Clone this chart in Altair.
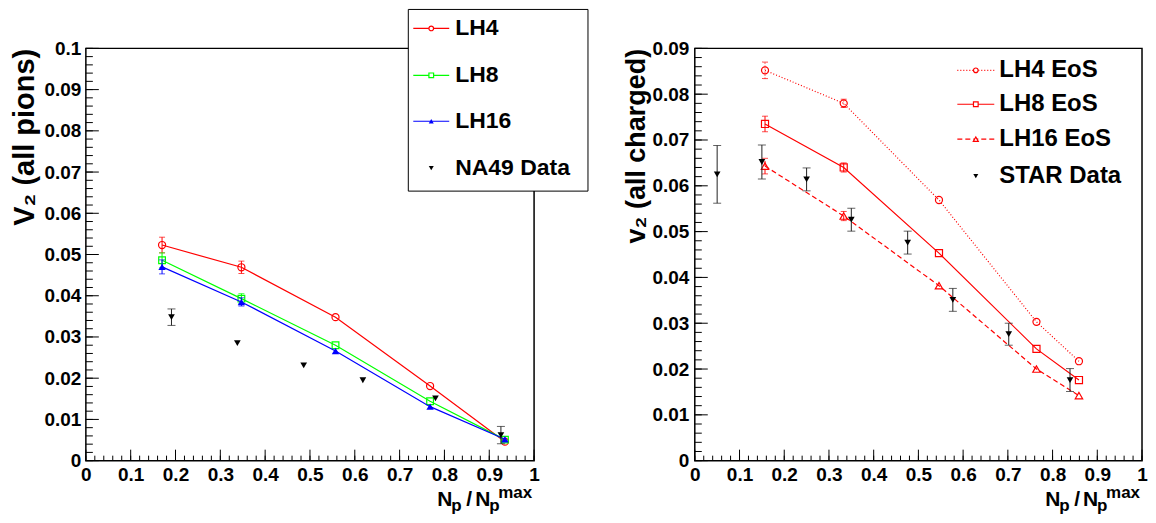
import altair as alt
import pandas as pd

FONT = "Liberation Sans"

# ---------------- Left panel: v2 of all pions ----------------
left_model_x = [0.170, 0.347, 0.557, 0.768, 0.935]
lh4_left = [0.0523, 0.0469, 0.0348, 0.0181, 0.0046]
lh4_left_err = [0.0019, 0.0015, 0.0, 0.0, 0.0]
lh8_left = [0.0486, 0.0393, 0.0280, 0.0144, 0.0051]
lh8_left_err = [0.0018, 0.0012, 0.0, 0.0, 0.0]
lh16_left = [0.0470, 0.0385, 0.0266, 0.0131, 0.0052]
lh16_left_err = [0.0017, 0.0010, 0.0, 0.0, 0.0]
na49_x = [0.191, 0.338, 0.486, 0.618, 0.780, 0.926]
na49_v2 = [0.0348, 0.0285, 0.0231, 0.0195, 0.0151, 0.0062]
na49_err = [0.0020, 0.0, 0.0, 0.0, 0.0, 0.0021]

# ---------------- Right panel: v2 of all charged ----------------
right_model_x = [0.157, 0.333, 0.546, 0.764, 0.859]
lh4_right = [0.0852, 0.0780, 0.0569, 0.0303, 0.0217]
lh4_right_err = [0.0018, 0.0009, 0.0, 0.0, 0.0]
lh8_right = [0.0735, 0.0640, 0.0453, 0.0244, 0.0176]
lh8_right_err = [0.0017, 0.0010, 0.0, 0.0, 0.0]
lh16_right = [0.0643, 0.0534, 0.0382, 0.0200, 0.0142]
lh16_right_err = [0.0017, 0.0010, 0.0, 0.0, 0.0]
star_x = [0.05, 0.15, 0.25, 0.35, 0.476, 0.577, 0.702, 0.839]
star_v2 = [0.0625, 0.0652, 0.0614, 0.0526, 0.0476, 0.0351, 0.0276, 0.0176]
star_err = [0.0063, 0.0037, 0.0025, 0.0025, 0.0025, 0.0025, 0.0024, 0.0025]

# tick labels
x_major = [0.0, 0.1, 0.2, 0.3, 0.4, 0.5, 0.6, 0.7, 0.8, 0.9, 1.0]
y_major_left = [0.0, 0.01, 0.02, 0.03, 0.04, 0.05, 0.06, 0.07, 0.08, 0.09, 0.1]
y_major_right = [0.0, 0.01, 0.02, 0.03, 0.04, 0.05, 0.06, 0.07, 0.08, 0.09]
x_minor = [round(i * 0.02, 4) for i in range(51)]
y_minor_left = [round(i * 0.002, 4) for i in range(51)]
y_minor_right = [round(i * 0.002, 4) for i in range(46)]

RED, GREEN, BLUE, BLACK = "#ff0000", "#00ff00", "#0000ff", "#000000"


def panel(W, H, ymax, y_major, y_minor, ytitle, title_x, title_size, model, data, legend,
          legend_font, legend_line, legend_box=None, y_label_pad=5):
    xs = alt.Scale(domain=[0, 1], nice=False, zero=False)
    ys = alt.Scale(domain=[0, ymax], nice=False, zero=False)
    xaxis = alt.Axis(values=x_major, format=".1~f", ticks=False, domain=False, grid=False,
                     title=None, labelFont=FONT, labelFontWeight="bold", labelFontSize=19,
                     labelPadding=5, labelFlush=False, labelOverlap=False, labelColor="black")
    yaxis = alt.Axis(values=y_major, format=".2~f", ticks=False, domain=False, grid=False,
                     title=ytitle, titleFont=FONT, titleFontWeight="bold",
                     titleFontSize=title_size,
                     titleX=title_x, titleY=0, titleAngle=270, titleAlign="right",
                     titleBaseline="bottom", titleColor="black",
                     labelFont=FONT, labelFontWeight="bold", labelFontSize=19,
                     labelPadding=y_label_pad, labelFlush=False, labelOverlap=False,
                     labelColor="black")

    def X(f):
        return alt.X(f"{f}:Q", scale=xs, axis=xaxis)

    def Y(f):
        return alt.Y(f"{f}:Q", scale=ys, axis=yaxis)

    one = pd.DataFrame({"k": [0]})
    layers = []
    # frame
    layers.append(alt.Chart(one).mark_rect(fill="transparent", stroke="black", strokeWidth=1.5)
                  .encode(x=alt.value(0), x2=alt.value(W), y=alt.value(0), y2=alt.value(H)))
    # inward ticks
    for vals, ln in ((x_major, 11), (x_minor, 5)):
        layers.append(alt.Chart(pd.DataFrame({"t": vals})).mark_rule(color="black", strokeWidth=1)
                      .encode(x=X("t"), y=alt.value(H), y2=alt.value(H - ln)))
    for vals, ln in ((y_major, 13), (y_minor, 7)):
        layers.append(alt.Chart(pd.DataFrame({"t": vals})).mark_rule(color="black", strokeWidth=1)
                      .encode(y=Y("t"), x=alt.value(0), x2=alt.value(ln)))

    def err_layers(df, color, dash, cap=7):
        d = df[df["err"] > 0].copy()
        d["lo"] = d["y"] - d["err"]
        d["hi"] = d["y"] + d["err"]
        kw = {"strokeDash": dash} if dash else {}
        out = [alt.Chart(d).mark_rule(color=color, strokeWidth=1, **kw)
               .encode(x=X("x"), y=Y("lo"), y2=alt.Y2("hi:Q"))]
        for f in ("lo", "hi"):
            out.append(alt.Chart(d).mark_tick(color=color, orient="horizontal", size=cap,
                                              thickness=1)
                       .encode(x=X("x"), y=Y(f)))
        return out

    for s in model:
        df = pd.DataFrame({"x": s["x"], "y": s["y"], "err": s["err"]})
        kw = {"strokeDash": s["dash"]} if s["dash"] else {}
        layers.append(alt.Chart(df).mark_line(color=s["color"], strokeWidth=1.2, **kw)
                      .encode(x=X("x"), y=Y("y")))
        layers += err_layers(df, s["color"], s["dash"], cap=6)
        layers.append(alt.Chart(df).mark_point(shape=s["shape"], filled=s["filled"],
                                               color=s["color"], size=s["size"],
                                               strokeWidth=1.2, opacity=1)
                      .encode(x=X("x"), y=Y("y")))
    for s in data:
        df = pd.DataFrame({"x": s["x"], "y": s["y"], "err": s["err"]})
        layers += err_layers(df, "#222222", None, cap=8)
        layers.append(alt.Chart(df).mark_point(shape="triangle-down", filled=True,
                                               color="black", size=s["size"], opacity=1)
                      .encode(x=X("x"), y=Y("y")))

    # legend
    if legend_box:
        bx0, bx1, by0, by1 = legend_box
        layers.append(alt.Chart(one).mark_rect(fill="white", stroke="black", strokeWidth=1)
                      .encode(x=alt.value(bx0), x2=alt.value(bx1), y=alt.value(by0),
                              y2=alt.value(by1)))
    lx0, lx1, tx = legend_line
    for row in legend:
        ly = row["ly"]
        if row.get("line"):
            kw = {"strokeDash": row["dash"]} if row["dash"] else {}
            layers.append(alt.Chart(one).mark_rule(color=row["color"], strokeWidth=1.2, **kw)
                          .encode(x=alt.value(lx0), x2=alt.value(lx1), y=alt.value(ly)))
        layers.append(alt.Chart(one).mark_point(shape=row["shape"], filled=row["filled"],
                                                color=row["color"], size=row["size"],
                                                strokeWidth=1.2, opacity=1,
                                                fill=row["color"] if row["filled"] else "white")
                      .encode(x=alt.value((lx0 + lx1) / 2), y=alt.value(ly)))
        layers.append(alt.Chart(one).mark_text(text=row["name"], font=FONT, fontWeight="bold",
                                               fontSize=legend_font, align="left",
                                               baseline="middle", color="black")
                      .encode(x=alt.value(tx), y=alt.value(ly)))

    # x title  N_p / N_p^max (right-aligned to the plot edge)
    parts = [("N", -97, 45, 21), ("p", -83, 50, 17), ("/", -68, 45, 21), ("N", -59, 45, 21),
             ("p", -45, 50, 17), ("max", -36, 37, 17)]
    for t, dx, dy, fs in parts:
        layers.append(alt.Chart(one).mark_text(text=t, font=FONT, fontWeight="bold", fontSize=fs,
                                               align="left", baseline="alphabetic",
                                               color="black")
                      .encode(x=alt.value(W + dx), y=alt.value(H + dy)))

    return alt.layer(*layers).properties(width=W, height=H)


left_model = [
    dict(x=left_model_x, y=lh4_left, err=lh4_left_err, color=RED, dash=None,
         shape="circle", filled=False, size=50),
    dict(x=left_model_x, y=lh8_left, err=lh8_left_err, color=GREEN, dash=None,
         shape="square", filled=False, size=45),
    dict(x=left_model_x, y=lh16_left, err=lh16_left_err, color=BLUE, dash=None,
         shape="triangle-up", filled=True, size=55),
]
left_data = [dict(x=na49_x, y=na49_v2, err=na49_err, size=45)]
left_names = ["LH4", "LH8", "LH16", "NA49 Data"]
left_legend = [
    dict(name=left_names[0], ly=-20, line=True, color=RED, dash=None, shape="circle",
         filled=False, size=22),
    dict(name=left_names[1], ly=27, line=True, color=GREEN, dash=None, shape="square",
         filled=False, size=22),
    dict(name=left_names[2], ly=73, line=True, color=BLUE, dash=None, shape="triangle-up",
         filled=True, size=25),
    dict(name=left_names[3], ly=120, line=False, color=BLACK, dash=None, shape="triangle-down",
         filled=True, size=25),
]

right_model = [
    dict(x=right_model_x, y=lh4_right, err=lh4_right_err, color=RED, dash=[1, 2],
         shape="circle", filled=False, size=50),
    dict(x=right_model_x, y=lh8_right, err=lh8_right_err, color=RED, dash=None,
         shape="square", filled=False, size=50),
    dict(x=right_model_x, y=lh16_right, err=lh16_right_err, color=RED, dash=[5, 3],
         shape="triangle-up", filled=False, size=55),
]
right_data = [dict(x=star_x, y=star_v2, err=star_err, size=45)]
right_names = ["LH4 EoS", "LH8 EoS", "LH16 EoS", "STAR Data"]
right_legend = [
    dict(name=right_names[0], ly=22, line=True, color=RED, dash=[1, 2], shape="circle",
         filled=False, size=22),
    dict(name=right_names[1], ly=56, line=True, color=RED, dash=None, shape="square",
         filled=False, size=22),
    dict(name=right_names[2], ly=91, line=True, color=RED, dash=[5, 3], shape="triangle-up",
         filled=False, size=25),
    dict(name=right_names[3], ly=128, line=False, color=BLACK, dash=None, shape="triangle-down",
         filled=True, size=25),
]

left = panel(449, 413, 0.1, y_major_left, y_minor_left, "V\u2082 (all pions)", -46, 29,
             left_model, left_data, left_legend, 23, (328, 364, 370),
             legend_box=(323, 503, -39, 143), y_label_pad=5)
right = panel(448, 413, 0.09, y_major_right, y_minor_right, "v\u2082 (all charged)", -44, 27,
              right_model, right_data, right_legend, 24, (263, 300, 305), y_label_pad=6)

chart = alt.hconcat(left, right, spacing=161, bounds="flush").properties(
    padding={"left": 2, "top": 0, "right": 0, "bottom": 0}
).configure_view(stroke="transparent")

chart.save("out.html", embed_options={"renderer": "svg", "actions": False})
